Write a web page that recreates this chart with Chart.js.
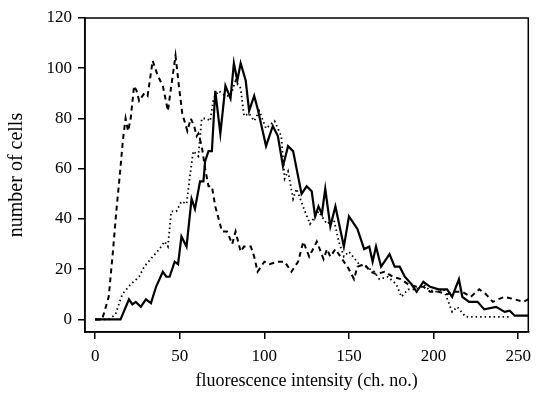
<!DOCTYPE html>
<html>
<head>
<meta charset="utf-8">
<script src="https://cdn.jsdelivr.net/npm/chart.js@4"></script>
<style>
  html, body { margin: 0; padding: 0; background: #fff; }
  #wrap { width: 538px; height: 403px; }
</style>
</head>
<body>
<div id="wrap"><canvas id="flowChart"></canvas></div>
<script>
// tick labels
const xTicks = [0, 50, 100, 150, 200, 250];
const yTicks = [0, 20, 40, 60, 80, 100, 120];

// solid curve (channel, cells)
const solidX = [0, 15, 20, 22, 24, 27, 30, 33, 36, 40, 42, 44, 47, 49, 51, 54, 57, 59, 62, 64, 65, 67, 69, 71, 74, 77, 80, 82, 84, 86, 89, 91, 94, 96, 99, 101, 105, 108, 111, 114, 117, 122, 125, 128, 130, 132, 134, 136, 139, 142, 147, 150, 155, 159, 162, 164, 166, 169, 174, 177, 180, 183, 187, 190, 194, 198, 203, 208, 211, 215, 217, 221, 226, 230, 237, 242, 245, 248, 256];
const solidY = [0, 0, 8, 6, 7, 5, 8, 6.5, 13, 19, 17, 17, 23, 22, 33, 29, 48, 44, 55, 55, 63, 67, 67, 91, 74, 93, 88, 102, 95, 102, 95, 83, 89, 84, 75, 69, 77, 73, 61, 69, 67, 50, 53, 51, 41, 45, 42, 52, 37, 45, 29, 41, 36, 28, 29, 23, 29, 21, 26, 21, 21, 17, 14, 11, 15, 13, 12, 12, 9, 16, 9, 7, 7, 4, 5, 3, 3.5, 1.5, 1.5];

// dotted curve
const dottedX = [0, 8, 12, 16, 21, 26, 29, 34, 38, 41, 43, 45, 48, 51, 54, 56, 58, 61, 63, 66, 68, 70, 73, 77, 80, 83, 86, 88, 91, 94, 97, 101, 106, 110, 112, 114, 117, 119, 124, 127, 132, 137, 141, 144, 147, 150, 156, 160, 165, 168, 173, 178, 181, 185, 190, 194, 197, 201, 206, 211, 214, 219, 245];
const dottedY = [0, 0, 2, 10, 14, 17, 21, 25, 28, 31, 29, 43, 43, 47, 46, 57, 67, 65, 80, 80, 79, 88, 91, 89, 89, 95, 92, 81, 82, 79, 83, 76, 79, 73, 56, 59, 48, 52, 43, 38, 43, 38, 40, 31, 25, 27, 22, 21, 19, 16, 17, 14, 9, 12, 12, 14, 12, 11, 12, 3, 5, 1, 1];

// dashed curve
const dashedX = [0, 4, 5, 8, 10.5, 12.5, 14.5, 16.5, 18, 19.5, 21, 23, 24.5, 26, 29, 31, 34, 37, 40, 43, 45, 47.5, 49.5, 51.5, 54.5, 56.5, 58.5, 60, 61, 63, 65, 67, 69, 71, 75, 78, 81, 83, 86, 88, 92, 94, 96, 100, 103, 108, 112, 116, 120, 123, 126.5, 131, 135, 137, 139, 142, 147, 150, 153, 155, 159, 163, 166, 171, 176, 181, 185, 190, 194, 198, 203, 208, 212, 217, 222, 227, 231, 235, 238, 242, 248, 253, 256];
const dashedY = [0, 0, 2, 9, 27, 43, 57, 72, 80, 75, 80, 93, 91, 87, 90, 89, 103, 97, 93, 83, 93, 105, 93, 82, 75, 80, 77, 73, 74, 69, 60, 53, 53, 45, 35, 35, 30, 35, 27, 29, 29, 25, 19, 23, 22, 23, 23, 19, 23, 31, 25, 31, 24, 28, 25, 28, 23, 20, 16, 21, 22, 19, 18, 19, 17, 16, 14, 13, 13, 11, 11, 10, 11, 11, 9, 12, 10, 7, 8, 9, 8, 7, 8];

const pts = (xs, ys) => xs.map((x, i) => ({ x: x, y: ys[i] }));

const frame = {
    id: 'frame',
    afterDraw(chart) {
        const a = chart.chartArea;
        const ctx = chart.ctx;
        ctx.save();
        ctx.strokeStyle = '#000';
        ctx.lineWidth = 1.5;
        ctx.strokeRect(a.left, a.top, a.right - a.left, a.bottom - a.top);
        ctx.restore();
    }
};

const serif = 'Liberation Serif';

new Chart(document.getElementById('flowChart'), {
    type: 'line',
    data: {
        datasets: [
            {
                label: 'solid',
                data: pts(solidX, solidY),
                borderColor: '#000',
                borderWidth: 2.2,
                pointRadius: 0,
                tension: 0
            },
            {
                label: 'dotted',
                data: pts(dottedX, dottedY),
                borderColor: '#000',
                borderWidth: 1.8,
                borderDash: [1.5, 3],
                pointRadius: 0,
                tension: 0
            },
            {
                label: 'dashed',
                data: pts(dashedX, dashedY),
                borderColor: '#000',
                borderWidth: 2,
                borderDash: [5, 4],
                pointRadius: 0,
                tension: 0
            }
        ]
    },
    options: {
        responsive: true,
        maintainAspectRatio: false,
        animation: false,
        layout: { padding: { top: 18, right: 5, left: 0, bottom: 0 } },
        plugins: {
            legend: { display: false },
            tooltip: { enabled: false }
        },
        scales: {
            x: {
                type: 'linear',
                min: -6,
                max: 256,
                afterBuildTicks: (axis) => { axis.ticks = xTicks.map(v => ({ value: v })); },
                afterFit: (axis) => { axis.height = 71; },
                grid: { drawOnChartArea: false, tickLength: 7, color: '#000', lineWidth: 1.5 },
                border: { color: '#000', width: 1.5 },
                ticks: { color: '#000', font: { family: serif, size: 17 }, padding: 7, maxRotation: 0 },
                title: {
                    display: true,
                    text: 'fluorescence intensity (ch. no.)',
                    color: '#000',
                    font: { family: serif, size: 18 },
                    padding: { top: 4, bottom: 11 }
                }
            },
            y: {
                min: -5,
                max: 120,
                afterBuildTicks: (axis) => { axis.ticks = yTicks.map(v => ({ value: v })); },
                afterFit: (axis) => { axis.width = 85; },
                grid: { drawOnChartArea: false, tickLength: 7, color: '#000', lineWidth: 1.5 },
                border: { color: '#000', width: 1.5 },
                ticks: { color: '#000', font: { family: serif, size: 17 }, padding: 6 },
                title: {
                    display: true,
                    text: 'number of cells',
                    color: '#000',
                    font: { family: serif, size: 20 },
                    padding: { top: 5, bottom: 4 }
                }
            }
        }
    },
    plugins: [frame]
});
</script>
</body>
</html>
